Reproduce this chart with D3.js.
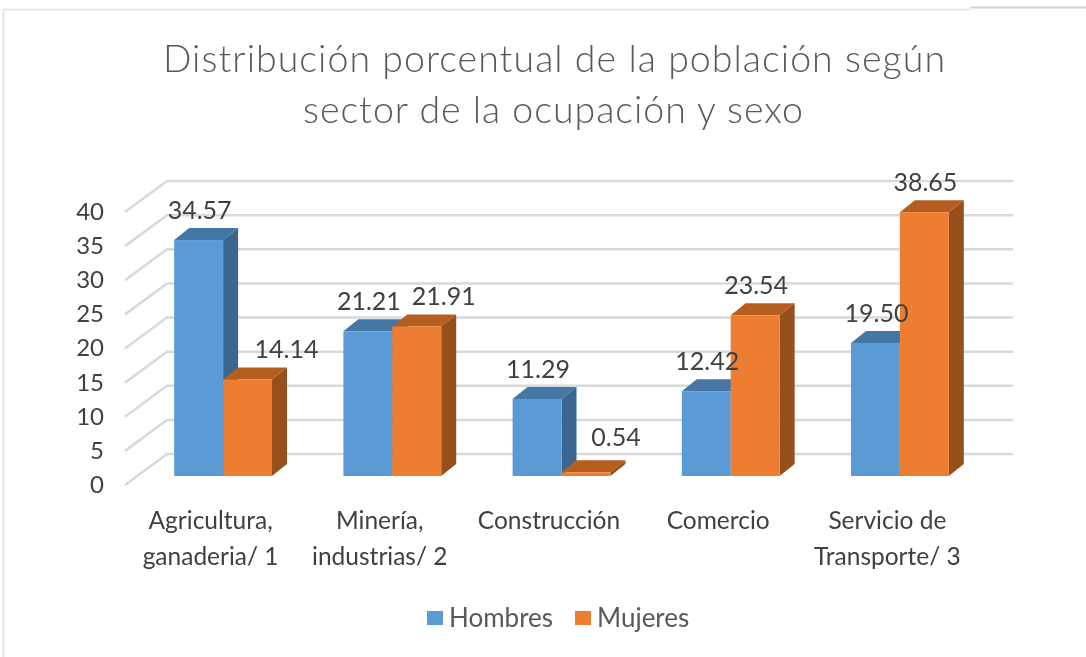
<!DOCTYPE html>
<html>
<head>
<meta charset="utf-8">
<script src="https://cdn.jsdelivr.net/npm/d3@7"></script>
<style>
  html, body { margin: 0; padding: 0; background: #fff; }
  svg { display: block; font-family: Lato, "Open Sans", sans-serif; filter: blur(0.45px); }
</style>
</head>
<body>
<svg></svg>
<script>
let categories = ['Agricultura, ganaderia/ 1', 'Minería, industrias/ 2', 'Construcción', 'Comercio', 'Servicio de Transporte/ 3']
let categoryLines = [['Agricultura,', 'ganaderia/ 1'], ['Minería,', 'industrias/ 2'], ['Construcción'], ['Comercio'], ['Servicio de', 'Transporte/ 3']]
let seriesNames = ['Hombres', 'Mujeres']
let hombres = [34.57, 21.21, 11.29, 12.42, 19.50]
let mujeres = [14.14, 21.91, 0.54, 23.54, 38.65]
let yTicks = [0, 5, 10, 15, 20, 25, 30, 35, 40]

let width = 1086
let height = 657

// depth of the 3d look: bar block, and floor in front of / behind the bars
let barDepth = {x: 15, y: 12}
let floorFront = {x: -13.5, y: 9}
let floorBack = {x: 28.5, y: -22}

let colors = {
    Hombres: {front: '#5b9bd5', side: '#3a668f', top: '#4577a6'},
    Mujeres: {front: '#ed7d31', side: '#97501c', top: '#b65d20'}
}

// labels that were dragged away from their bars in the original
let labelNudge = {'0-Mujeres': {x: 38, y: 0}, '1-Mujeres': {x: 26, y: 0}, '2-Mujeres': {x: 29, y: -5}}

let svg = d3.select('svg').attr('width', width).attr('height', height)

// scales are on the plane of the bars' front faces
let xGroup = d3.scaleBand()
               .domain(d3.range(categories.length))
               .range([138.5, 984.5])
               .paddingInner(0.4218)
               .paddingOuter(0.2109)
let xBar = d3.scaleBand()
             .domain(seriesNames)
             .range([0, xGroup.bandwidth()])
let y = d3.scaleLinear().domain([0, 40]).range([476, 203])

let drawFrame = () => {
    svg.append('path').attr('d', 'M3.5,657V9.5H970').attr('fill', 'none').attr('stroke', '#e2e2e2').attr('stroke-width', 1.5)
    svg.append('path').attr('d', 'M970,7.5H1086').attr('fill', 'none').attr('stroke', '#d4d4d4').attr('stroke-width', 2)
}

let drawTitle = () => {
    svg.append('text').text('Distribución porcentual de la población según')
       .attr('x', 554).attr('y', 72).attr('text-anchor', 'middle')
       .attr('font-size', 37.5).attr('font-weight', 300).attr('fill', '#595959')
       .attr('textLength', 782)
    svg.append('text').text('sector de la ocupación y sexo')
       .attr('x', 553).attr('y', 123).attr('text-anchor', 'middle')
       .attr('font-size', 37.5).attr('font-weight', 300).attr('fill', '#595959')
       .attr('textLength', 500)
}

let drawGrid = () => {
    let x0 = xGroup.range()[0] + floorFront.x
    let x1 = xGroup.range()[1] + floorFront.x
    let grid = svg.append('g').attr('fill', 'none').attr('stroke', '#d9d9d9').attr('stroke-width', 2.5)
    grid.selectAll('path')
        .data(yTicks)
        .enter()
        .append('path')
        .attr('d', (d) => {
            let yy = y(d)
            return 'M' + x0 + ',' + (yy + floorFront.y)
                 + 'L' + (x0 + floorBack.x - floorFront.x) + ',' + (yy + floorBack.y)
                 + 'L' + (x1 + floorBack.x - floorFront.x) + ',' + (yy + floorBack.y)
        })
}

let drawAxes = () => {
    let yAxis = d3.axisLeft(y).tickValues(yTicks).tickSize(0).tickPadding(0)
    let gy = svg.append('g')
                .attr('transform', 'translate(104, ' + (floorFront.y - 1) + ')')
                .call(yAxis)
    gy.select('.domain').remove()
    gy.selectAll('text').attr('font-size', 24).attr('font-family', 'Lato').attr('fill', '#404040').attr('dy', '0.35em')

    let xAxis = d3.axisBottom(xGroup).tickSize(0).tickFormat('')
    let gx = svg.append('g')
                .attr('transform', 'translate(' + (floorFront.x + 1) + ', 0)')
                .call(xAxis)
    gx.select('.domain').remove()
    gx.selectAll('text')
      .attr('y', 0).attr('dy', 0)
      .attr('font-size', 24.5).attr('font-family', 'Lato').attr('fill', '#404040')
      .each(function(d, i) {
          d3.select(this).selectAll('tspan')
            .data(categoryLines[i])
            .enter()
            .append('tspan')
            .attr('x', 0)
            .attr('y', (t, j) => 529 + j * 36)
            .text((t) => t)
      })
}

let drawBars = () => {
    let seriesData = seriesNames.map((s, k) => ({name: s, values: k == 0 ? hombres : mujeres}))
    categories.forEach((c, i) => {
        let g = svg.append('g').attr('transform', 'translate(' + xGroup(i) + ', 0)')
        seriesData.forEach((s) => {
            let v = s.values[i]
            let left = xBar(s.name)
            let right = left + xBar.bandwidth()
            let top = y(v)
            let base = y(0)
            let col = colors[s.name]
            g.append('polygon')
             .attr('points', [[left, top], [right, top], [right + barDepth.x, top - barDepth.y], [left + barDepth.x, top - barDepth.y]].join(' '))
             .attr('fill', col.top)
            g.append('polygon')
             .attr('points', [[right, top], [right + barDepth.x, top - barDepth.y], [right + barDepth.x, base - barDepth.y], [right, base]].join(' '))
             .attr('fill', col.side)
            g.append('rect')
             .attr('x', left).attr('y', top)
             .attr('width', xBar.bandwidth()).attr('height', base - top)
             .attr('fill', col.front)
        })
    })
}

let drawLabels = () => {
    seriesNames.forEach((name, k) => {
        let values = k == 0 ? hombres : mujeres
        svg.append('g').selectAll('text')
           .data(values)
           .enter()
           .append('text')
           .text((d) => d.toFixed(2))
           .attr('x', (d, i) => {
               let nudge = labelNudge[i + '-' + name]
               return xGroup(i) + xBar(name) + xBar.bandwidth() / 2 + (nudge ? nudge.x : 0) + 1
           })
           .attr('y', (d, i) => {
               let nudge = labelNudge[i + '-' + name]
               return y(d) - 21 + (nudge ? nudge.y : 0)
           })
           .attr('text-anchor', 'middle')
           .attr('font-size', 25)
           .attr('fill', '#404040')
    })
}

let drawLegend = () => {
    let legendX = d3.scaleOrdinal().domain(seriesNames).range([427, 575])
    let g = svg.append('g')
    g.selectAll('rect')
     .data(seriesNames)
     .enter()
     .append('rect')
     .attr('x', (d) => legendX(d)).attr('y', 611)
     .attr('width', 16).attr('height', 14)
     .attr('fill', (d) => colors[d].front)
    g.selectAll('text')
     .data(seriesNames)
     .enter()
     .append('text')
     .text((d) => d)
     .attr('x', (d) => legendX(d) + 22).attr('y', 627)
     .attr('font-size', 26).attr('fill', '#595959')
}

drawFrame()
drawTitle()
drawGrid()
drawAxes()
drawBars()
drawLabels()
drawLegend()
</script>
</body>
</html>
